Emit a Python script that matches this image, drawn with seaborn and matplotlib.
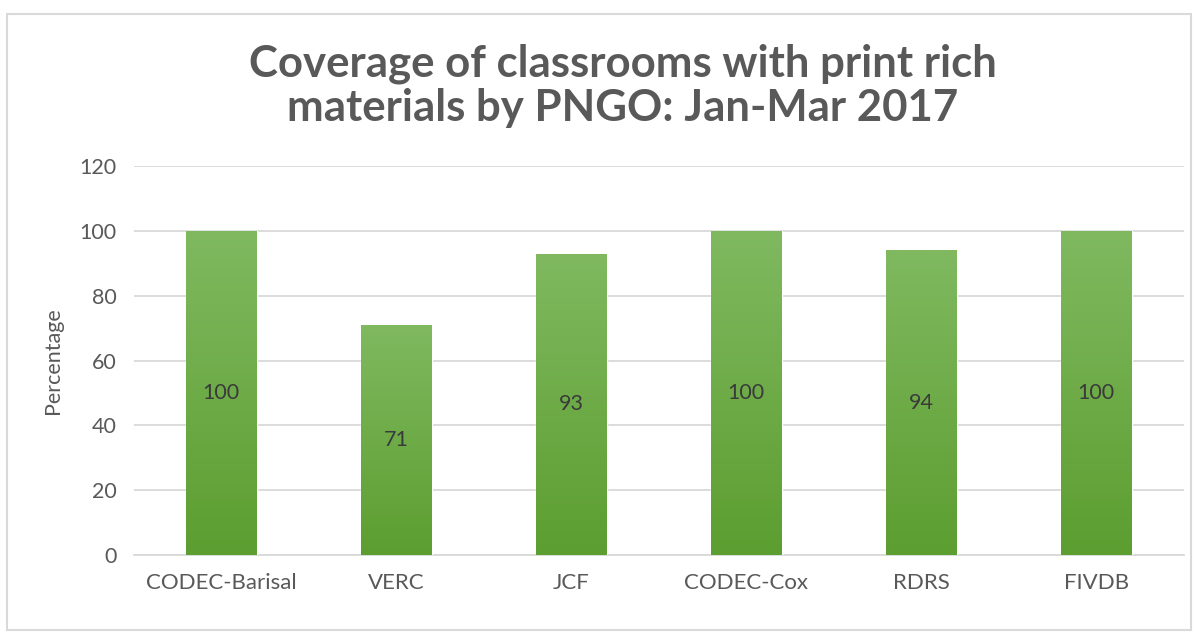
import numpy as np
import pandas as pd
import seaborn as sns
import matplotlib.pyplot as plt
from matplotlib.colors import LinearSegmentedColormap
from matplotlib.patches import FancyBboxPatch

# data
pngos = ['CODEC-Barisal', 'VERC', 'JCF', 'CODEC-Cox', 'RDRS', 'FIVDB']
coverage = [100, 71, 93, 100, 94, 100]
y_ticks = [0, 20, 40, 60, 80, 100, 120]

df = pd.DataFrame({'PNGO': pngos, 'Percentage': coverage})

sns.set_theme(style='white')
plt.rcParams['font.family'] = ['Lato', 'DejaVu Sans']

txt_col = '#595959'
fig = plt.figure(figsize=(11.98, 6.37), dpi=100)
fig.patches.append(FancyBboxPatch((0.006, 0.011), 0.988, 0.967, boxstyle='square,pad=0',
                                  transform=fig.transFigure, fill=False,
                                  edgecolor='#d9d9d9', linewidth=1.5))
ax = fig.add_axes([0.1115, 0.1287, 0.8765, 0.6107])

sns.barplot(data=df, x='PNGO', y='Percentage', color='#70ad47', width=0.405,
            saturation=1, ax=ax, zorder=3)

# vertical gradient on each bar, as in the original
grad = LinearSegmentedColormap.from_list('g', ['#5c9e30', '#80b960'])
ramp = np.linspace(0, 1, 256).reshape(-1, 1)
for bar in ax.patches:
    x0, w, h = bar.get_x(), bar.get_width(), bar.get_height()
    im = ax.imshow(ramp, cmap=grad, origin='lower', aspect='auto',
                   extent=[x0, x0 + w, 0, h], zorder=4)
    im.set_clip_path(bar)
    ax.text(x0 + w / 2, h / 2, f'{h:.0f}', ha='center', va='center',
            fontsize=15.5, color='#3a3a3a', zorder=5)

ax.set_xlim(-0.5, len(pngos) - 0.5)
ax.set_ylim(0, 120)
ax.set_yticks(y_ticks)
ax.yaxis.grid(True, color='#d9d9d9', linewidth=1.3, zorder=0)
ax.set_axisbelow(True)
for s in ['top', 'right', 'left']:
    ax.spines[s].set_visible(False)
ax.spines['bottom'].set_color('#d9d9d9')
ax.spines['bottom'].set_linewidth(1.3)
ax.tick_params(axis='y', length=0, labelsize=15.5, colors=txt_col, pad=12)
ax.tick_params(axis='x', length=0, labelsize=16, colors=txt_col, pad=13)
ax.set_xlabel('')
ax.set_ylabel('Percentage', fontsize=15.5, color=txt_col, labelpad=12)

fig.text(0.52, 0.865, 'Coverage of classrooms with print rich\nmaterials by PNGO: Jan-Mar 2017',
         ha='center', va='center', fontsize=31.5, fontweight='bold', color=txt_col,
         linespacing=1.12)

fig.savefig('out.png', dpi=100)
